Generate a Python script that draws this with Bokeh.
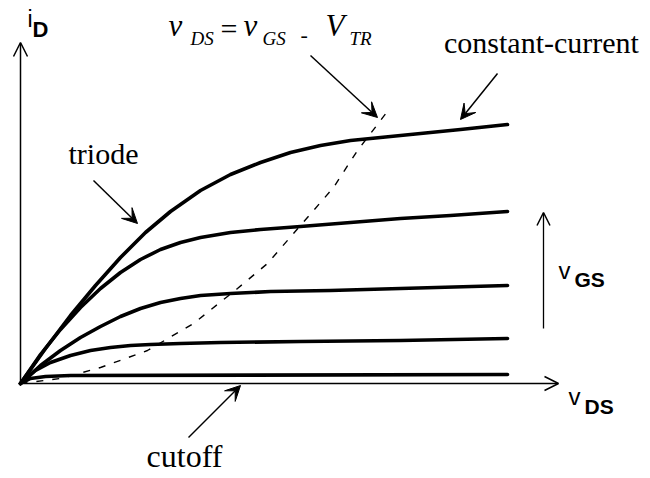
from bokeh.plotting import figure
from bokeh.models import Range1d, Arrow, OpenHead, VeeHead, Label
from bokeh.embed import file_html
from bokeh.resources import INLINE

# Drain characteristics, i_D (mA) against v_DS (V), one curve per gate voltage
v_top = [0, 0.5, 1.0, 1.5, 2.0, 2.5, 3.0, 3.6, 4.2, 4.8, 5.4, 6.0, 6.6, 7.2, 8.0, 8.8, 9.74]
i_top = [0, 1.4, 2.72, 3.92, 5.04, 6.04, 6.88, 7.72, 8.36, 8.84, 9.24, 9.52, 9.72, 9.84, 10.0, 10.16, 10.36]

v_2 = [0, 0.4, 0.8, 1.2, 1.6, 2.0, 2.4, 2.8, 3.2, 3.6, 4.2, 4.8, 5.6, 6.6, 7.6, 8.6, 9.74]
i_2 = [0, 1.16, 2.16, 3.04, 3.8, 4.44, 4.96, 5.36, 5.64, 5.84, 6.04, 6.16, 6.28, 6.44, 6.6, 6.72, 6.88]

v_3 = [0, 0.4, 0.8, 1.2, 1.6, 2.0, 2.4, 2.8, 3.2, 3.6, 4.2, 5.0, 6.2, 7.6, 9.74]
i_3 = [0, 0.72, 1.32, 1.84, 2.28, 2.68, 3.0, 3.24, 3.4, 3.52, 3.6, 3.68, 3.72, 3.8, 3.92]

v_4 = [0, 0.3, 0.6, 1.0, 1.4, 1.8, 2.2, 2.6, 3.2, 4.0, 5.6, 7.6, 9.74]
i_4 = [0, 0.52, 0.84, 1.12, 1.32, 1.44, 1.52, 1.56, 1.6, 1.64, 1.68, 1.72, 1.8]

v_cut = [0, 0.2, 0.5, 1.0, 9.74]
i_cut = [0, 0.2, 0.28, 0.32, 0.36]

# Saturation boundary v_DS = v_GS - V_TR
v_sat = [0, 0.8, 1.6, 2.54, 3.46, 4.34, 4.94, 5.46, 6.26, 6.74, 7.2, 7.38]
i_sat = [0, 0.2, 0.64, 1.32, 2.4, 3.8, 4.8, 6.0, 7.84, 9.32, 10.52, 11.0]

curves_v = [v_top, v_2, v_3, v_4, v_cut]
curves_i = [i_top, i_2, i_3, i_4, i_cut]

# Axis extents
v_axis_end = 10.76
i_axis_end = 13.64

# Canvas layout: 50 px per volt, 25 px per mA, origin at (20, 383) from top-left
W, H = 650, 478
OX, OY, SX, SY = 20, 383, 50.0, 25.0


def X(px):
    return (px - OX) / SX


def Y(py):
    return (OY - py) / SY


p = figure(width=W, height=H, output_backend="svg", toolbar_location=None,
           x_range=Range1d(X(0), X(W)), y_range=Range1d(Y(H), Y(0)),
           min_border=0, background_fill_color="white", border_fill_color="white")
p.axis.visible = False
p.grid.visible = False
p.outline_line_color = None

# Axes drawn as arrows
p.add_layout(Arrow(end=OpenHead(size=14, line_width=1.5, line_color="black"),
                   x_start=0, y_start=0, x_end=0, y_end=i_axis_end,
                   line_width=1.5, line_color="black"))
p.add_layout(Arrow(end=OpenHead(size=14, line_width=1.5, line_color="black"),
                   x_start=0, y_start=0, x_end=v_axis_end, y_end=0,
                   line_width=1.5, line_color="black"))

# Curves
for vv, ii in zip(curves_v, curves_i):
    p.line(vv, ii, line_width=3.6, line_color="black", line_join="round", line_cap="round")
p.line(v_sat, i_sat, line_width=1.4, line_color="black", line_dash="7 9")

# Direction of increasing v_GS
p.add_layout(Arrow(end=OpenHead(size=13, line_width=1.5, line_color="black"),
                   x_start=X(543), y_start=Y(328), x_end=X(543), y_end=Y(212),
                   line_width=1.3, line_color="black"))

# Pointer arrows
for (x0, y0, x1, y1) in [(93, 180, 137, 223), (497, 73, 460, 119),
                         (310, 55, 377, 117), (188, 437, 240, 385)]:
    p.add_layout(Arrow(end=VeeHead(size=15, fill_color="black", line_color="black", line_width=1),
                       x_start=X(x0), y_start=Y(y0), x_end=X(x1), y_end=Y(y1),
                       line_width=1.5, line_color="black"))

SERIF = "Liberation Serif"
SANS = "Liberation Sans"


def lab(text, px, py, size, font=SERIF, style="normal", align="left"):
    # py is the wanted baseline; the label sits slightly low, so lift it
    base = py - 0.35 * size
    p.add_layout(Label(x=X(px), y=Y(base), text=text, text_font=font,
                       text_font_size=f"{size}px", text_font_style=style,
                       text_align=align, text_baseline="alphabetic",
                       text_color="black"))


# Region names
lab("triode", 103, 163, 30, align="center")
lab("constant-current", 541, 52, 30, align="center")
lab("cutoff", 184, 467, 32, align="center")

# v_DS = v_GS - V_TR
lab("v", 168, 36, 31, style="italic")
lab("DS", 190, 45, 19, style="italic")
lab("=", 220, 38, 30)
lab("v", 243, 36, 31, style="italic")
lab("GS", 262, 45, 19, style="italic")
lab("-", 300, 42, 22)
lab("V", 325, 36, 31, style="italic")
lab("TR", 349, 45, 19, style="italic")

# Axis names
lab("i", 27, 27, 23, font=SANS)
lab("D", 32, 37, 22, font=SANS, style="bold")
lab("v", 558, 278, 24, font=SANS)
lab("GS", 574, 286, 21, font=SANS, style="bold")
lab("v", 568, 404, 24, font=SANS)
lab("DS", 584, 413, 21, font=SANS, style="bold")

open("out.html", "w").write(file_html(p, INLINE))
